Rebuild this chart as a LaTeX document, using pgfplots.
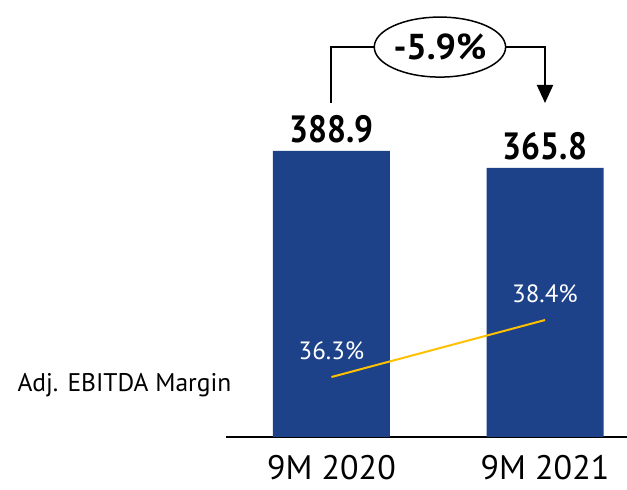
\documentclass[border=0pt]{standalone}
\usepackage{pgfplots}
\pgfplotsset{compat=1.18}
\usepackage{fontspec}
\setmainfont{PT Sans}
\usetikzlibrary{shapes.geometric,arrows.meta}
\definecolor{barblue}{RGB}{29,66,138}
\definecolor{lineyellow}{RGB}{255,192,0}
\begin{document}
\begin{tikzpicture}
\path[use as bounding box] (0,0) rectangle (627pt,490pt);
\begin{axis}[
 at={(226pt,53pt)}, anchor=south west,
 scale only axis, width=401pt, height=437pt,
 xmin=-0.494, xmax=1.384, ymin=0, ymax=594,
 axis y line=none, axis x line*=bottom,
 x axis line style={line width=2pt, -},
 xtick={0,1}, xticklabels={9M 2020, 9M 2021}, major tick length=0pt,
 xticklabel style={font=\fontsize{34}{34}\selectfont, yshift=-15pt},
 ytick=\empty,
 clip=false,
 bar width=0.548,
]
\addplot[ybar, fill=barblue, draw=none, point meta=explicit symbolic,
  nodes near coords,
  nodes near coords style={font=\bfseries\fontsize{38}{38}\selectfont, anchor=south, yshift=4pt, text=black, xscale=0.88, transform shape}]
  coordinates {(0,388.9) [388.9] (1,365.8) [365.8]};
\node[ellipse, draw, line width=1.5pt, inner sep=0pt, minimum width=130pt, minimum height=60pt,
  font=\bfseries\fontsize{36}{36}\selectfont] (e) at (axis cs:0.508,530) {-5.9\%};
\draw[line width=2pt] (axis cs:0,454) |- (e.west);
\draw[line width=2pt, -{Triangle[length=18pt,width=16pt]}] (e.east) -| (axis cs:1,454);
\end{axis}
\begin{axis}[
 at={(226pt,53pt)}, anchor=south west,
 scale only axis, width=401pt, height=437pt,
 xmin=-0.494, xmax=1.384, ymin=34.09, ymax=50.19,
 hide axis, clip=false,
]
\addplot[lineyellow, line width=2pt, point meta=explicit symbolic,
  nodes near coords,
  nodes near coords style={font=\fontsize{25}{25}\selectfont, anchor=center, yshift=26pt, text=white}]
  coordinates {(0,36.3) [36.3\%] (1,38.4) [38.4\%]};
\end{axis}
\node[anchor=west, font=\fontsize{25.5}{25.5}\selectfont] at (14pt,105pt) {Adj. EBITDA Margin};
\end{tikzpicture}
\end{document}
